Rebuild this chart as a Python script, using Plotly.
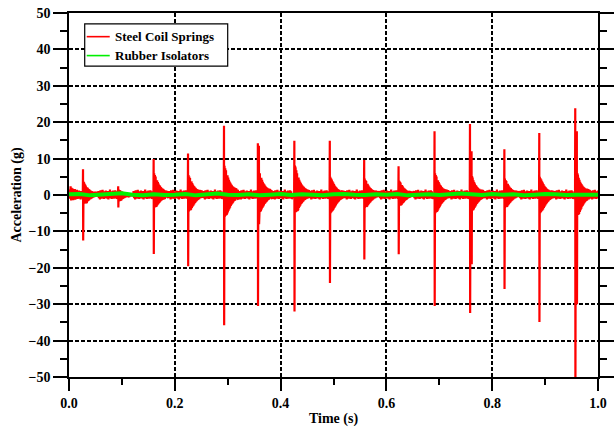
import numpy as np
import plotly.graph_objects as go

# ---- impact events (red: steel coil springs) ----
EVENT_T = [0.0265, 0.093, 0.160, 0.225, 0.293, 0.357, 0.426, 0.493, 0.558, 0.623, 0.691, 0.758, 0.823, 0.889, 0.957]
EVENT_POS = [7.1, 2.4, 9.9, 11.4, 19.0, 14.2, 14.9, 14.9, 9.6, 7.9, 17.5, 19.5, 12.6, 17.0, 23.8]
EVENT_NEG = [-12.5, -3.4, -16.2, -19.6, -35.8, -30.5, -32.0, -24.2, -17.7, -16.3, -30.5, -32.4, -25.8, -34.9, -55.0]
RING_POS = [3.5, 1.5, 6.0, 5.5, 8.0, 7.0, 8.0, 5.0, 4.5, 4.0, 6.0, 6.0, 4.5, 5.0, 7.0]
RING_NEG = [-2.5, -1.5, -3.5, -4.5, -6.0, -5.0, -5.0, -5.0, -3.5, -3.0, -5.0, -5.0, -3.5, -5.0, -6.5]

# secondary spikes right after some impacts
SECOND_T = [0.359, 0.761, 0.960]
SECOND_POS = [13.5, 12.0, 17.5]
SECOND_NEG = [-8.0, -19.0, -30.0]

# ringing after an impact (fraction of ring amplitude, alternating sign)
RING_SHAPE = [1.0, -1.0, 0.92, -0.95, 0.85, -0.9, 0.75, -0.85, 0.68, -0.8,
              0.6, -0.72, 0.52, -0.65, 0.46, -0.58, 0.42, -0.5, 0.37, -0.45,
              0.33, -0.4, 0.3, -0.35, 0.28, -0.3, 0.25, -0.27, 0.23, -0.25,
              0.21, -0.22, 0.2, -0.2, 0.19, -0.19, 0.18, -0.17, 0.17, -0.16]
RING_STEP = 0.0007

# background noise between impacts (g)
NOISE_TAIL = [1.1, -0.9, 0.8, -1.2, 1.3, -0.7, 0.9, -1.0, 1.4, -0.8, 0.7, -1.1,
              1.0, -0.9, 1.2, -0.6, 0.8, -1.0, 1.1, -1.2, 0.9, -0.7, 1.5, -0.9,
              0.8, -1.1, 1.0, -0.8, 1.2, -1.0, 0.7, -0.9, 1.3, -0.8, 1.0, -1.1]
NOISE_STEP = 0.001
START_NOISE = [1.5, -1.0, 2.4, -1.5, 2.0, -1.2, 1.8, -1.4, 1.2, -1.0, 1.6, -1.3,
               1.1, -0.9, 1.4, -1.1, 1.0, -0.8, 1.2, -1.0, 0.9, -1.2, 1.1, -0.9]

# green: rubber isolators, sampled every 0.02 s
GREEN_T = [round(0.02 * i, 2) for i in range(51)]
GREEN_V = [0.2, 0.3, -0.1, 0.1, 0.4, 0.5, 0.1, -0.1, 0.2, 0.0, 0.1, 0.3, -0.1,
           0.2, 0.4, 0.1, 0.0, 0.2, -0.1, 0.1, 0.3, 0.0, 0.2, 0.1, -0.1, 0.2,
           0.3, 0.1, 0.0, 0.2, 0.1, 0.3, -0.1, 0.1, 0.2, 0.0, 0.1, 0.4, 0.2,
           0.0, 0.3, 0.1, 0.2, -0.1, 0.1, 0.3, 0.2, 0.0, 0.1, 0.2, 0.1]

SERIES_NAMES = ["Steel Coil Springs", "Rubber Isolators"]

# ---- assemble the red series ----
pts = []
for i, v in enumerate(START_NOISE):
    pts.append((0.001 + i * NOISE_STEP, v))
for t, p, n, rp, rn in zip(EVENT_T, EVENT_POS, EVENT_NEG, RING_POS, RING_NEG):
    pts.append((t - 0.0004, 0.5))
    pts.append((t, p))
    pts.append((t + 0.0003, n))
    for k, s in enumerate(RING_SHAPE):
        amp = rp if s > 0 else -rn
        pts.append((t + 0.001 + k * RING_STEP, s * amp))
    t0 = t + 0.001 + len(RING_SHAPE) * RING_STEP
    for k, v in enumerate(NOISE_TAIL):
        pts.append((t0 + k * NOISE_STEP, v))
for t, p, n in zip(SECOND_T, SECOND_POS, SECOND_NEG):
    pts.append((t, p))
    pts.append((t + 0.0003, n))
pts.sort()
red_t = [a for a, b in pts]
red_v = [b for a, b in pts]

FONT = "Liberation Serif"
RED = "#ff0000"
GREEN = "#00f000"

fig = go.Figure()
fig.add_trace(go.Scatter(x=red_t, y=red_v, mode="lines", name=SERIES_NAMES[0],
                         showlegend=False, line=dict(color=RED, width=2.2)))
fig.add_trace(go.Scatter(x=GREEN_T, y=GREEN_V, mode="lines", name=SERIES_NAMES[1],
                         showlegend=False, line=dict(color=GREEN, width=4)))

# ---- hand-made legend (box, sample lines, labels) in paper coordinates ----
LEG_X0, LEG_X1, LEG_Y0, LEG_Y1 = 0.0297, 0.300, 0.854, 0.970
LEG_ROWS = [0.935, 0.883]
fig.add_shape(type="rect", xref="paper", yref="paper", x0=LEG_X0, x1=LEG_X1,
              y0=LEG_Y0, y1=LEG_Y1, line=dict(color="black", width=1.2),
              fillcolor="white", layer="above")
for name, col, yy in zip(SERIES_NAMES, [RED, GREEN], LEG_ROWS):
    fig.add_shape(type="line", xref="paper", yref="paper", x0=0.0335, x1=0.077,
                  y0=yy, y1=yy, line=dict(color=col, width=1.6), layer="above")
    fig.add_annotation(xref="paper", yref="paper", x=0.084, y=yy, text=name,
                       showarrow=False, xanchor="left", yanchor="middle",
                       font=dict(family=FONT, size=13, color="black", weight="bold"))

axis_common = dict(
    showline=True, linecolor="black", linewidth=1.6,
    ticks="outside", tickcolor="black", tickwidth=1.5,
    showgrid=True, gridcolor="black", gridwidth=1.8, griddash="4px,2px",
    zeroline=False, automargin=False, ticklabeloverflow="allow",
    tickfont=dict(family=FONT, size=14, color="black", weight="bold"),
)

fig.update_layout(
    width=616, height=429,
    margin=dict(l=69, r=18, t=13, b=52),
    paper_bgcolor="white", plot_bgcolor="white",
    font=dict(family=FONT, size=13, color="black", weight="bold"),
    showlegend=False,
    xaxis=dict(range=[0, 1], tick0=0, dtick=0.2, tickformat=".1f", ticklen=12,
               mirror=True,
               minor=dict(dtick=0.1, ticks="outside", ticklen=6, tickwidth=1.5,
                          tickcolor="black", showgrid=False),
               title=dict(text="Time (s)", standoff=4,
                          font=dict(family=FONT, size=14, color="black", weight="bold")),
               **axis_common),
    yaxis=dict(range=[-50, 50], tick0=0, dtick=10, ticklen=14, mirror="ticks",
               minor=dict(dtick=5, ticks="outside", ticklen=7, tickwidth=1.5,
                          tickcolor="black", showgrid=False),
               title=dict(text="Acceleration (g)", standoff=4,
                          font=dict(family=FONT, size=14, color="black", weight="bold")),
               **axis_common),
)

# remove the page's default 8px body margin so the figure fills the window
fig.write_html("out.html", config={"displayModeBar": False},
               post_script="document.body.style.margin='0';document.body.style.overflow='hidden';")
